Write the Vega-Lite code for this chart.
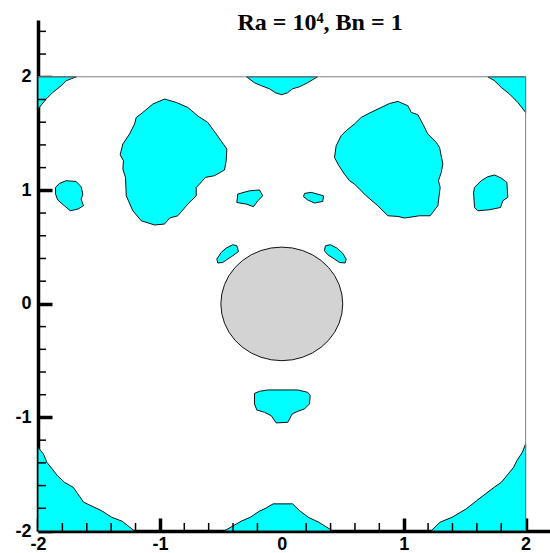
{
  "$schema": "https://vega.github.io/schema/vega-lite/v6.json",
  "width": 512,
  "height": 511,
  "autosize": {"type": "none"},
  "padding": {"left": 38, "top": 20, "right": 0, "bottom": 22},
  "background": "white",
  "config": {"view": {"stroke": null}},
  "title": {"text": "Ra = 10⁴, Bn = 1", "font": "Liberation Serif", "fontSize": 24, "fontWeight": "bold", "color": "black", "anchor": "middle", "frame": "group", "dx": 26, "offset": 0, "baseline": "alphabetic", "dy": 34},
  "datasets": {
    "blobs": [
      {"s":"tl","i":0,"x":-2,"y":2},{"s":"tl","i":1,"x":-1.685,"y":2},{"s":"tl","i":2,"x":-1.769,"y":1.965},{"s":"tl","i":3,"x":-1.81,"y":1.921},{"s":"tl","i":4,"x":-1.879,"y":1.862},{"s":"tl","i":5,"x":-1.933,"y":1.804},{"s":"tl","i":6,"x":-2,"y":1.716},{"s":"tl","i":7,"x":-2,"y":2},
      {"s":"tr","i":0,"x":1.69,"y":2},{"s":"tr","i":1,"x":2,"y":2},{"s":"tr","i":2,"x":2,"y":1.686},{"s":"tr","i":3,"x":1.936,"y":1.774},{"s":"tr","i":4,"x":1.868,"y":1.848},{"s":"tr","i":5,"x":1.8,"y":1.906},{"s":"tr","i":6,"x":1.745,"y":1.965},{"s":"tr","i":7,"x":1.69,"y":2},
      {"s":"tc","i":0,"x":-0.29,"y":2},{"s":"tc","i":1,"x":-0.224,"y":1.947},{"s":"tc","i":2,"x":-0.167,"y":1.921},{"s":"tc","i":3,"x":-0.101,"y":1.894},{"s":"tc","i":4,"x":-0.052,"y":1.859},{"s":"tc","i":5,"x":-0.002,"y":1.842},{"s":"tc","i":6,"x":0.047,"y":1.859},{"s":"tc","i":7,"x":0.088,"y":1.894},{"s":"tc","i":8,"x":0.145,"y":1.912},{"s":"tc","i":9,"x":0.211,"y":1.947},{"s":"tc","i":10,"x":0.293,"y":2},{"s":"tc","i":11,"x":-0.29,"y":2},
      {"s":"bl","i":0,"x":-0.962,"y":1.804},{"s":"bl","i":1,"x":-0.866,"y":1.774},{"s":"bl","i":2,"x":-0.771,"y":1.73},{"s":"bl","i":3,"x":-0.689,"y":1.655},{"s":"bl","i":4,"x":-0.607,"y":1.598},{"s":"bl","i":5,"x":-0.538,"y":1.496},{"s":"bl","i":6,"x":-0.451,"y":1.364},{"s":"bl","i":7,"x":-0.456,"y":1.261},{"s":"bl","i":8,"x":-0.47,"y":1.179},{"s":"bl","i":9,"x":-0.552,"y":1.129},{"s":"bl","i":10,"x":-0.626,"y":1.114},{"s":"bl","i":11,"x":-0.675,"y":1.055},{"s":"bl","i":12,"x":-0.702,"y":1.026},{"s":"bl","i":13,"x":-0.702,"y":0.952},{"s":"bl","i":14,"x":-0.771,"y":0.879},{"s":"bl","i":15,"x":-0.853,"y":0.776},{"s":"bl","i":16,"x":-0.921,"y":0.756},{"s":"bl","i":17,"x":-0.962,"y":0.703},{"s":"bl","i":18,"x":-1.044,"y":0.695},{"s":"bl","i":19,"x":-1.153,"y":0.732},{"s":"bl","i":20,"x":-1.222,"y":0.82},{"s":"bl","i":21,"x":-1.276,"y":0.952},{"s":"bl","i":22,"x":-1.282,"y":1.114},{"s":"bl","i":23,"x":-1.304,"y":1.187},{"s":"bl","i":24,"x":-1.299,"y":1.261},{"s":"bl","i":25,"x":-1.326,"y":1.313},{"s":"bl","i":26,"x":-1.304,"y":1.408},{"s":"bl","i":27,"x":-1.249,"y":1.496},{"s":"bl","i":28,"x":-1.208,"y":1.584},{"s":"bl","i":29,"x":-1.194,"y":1.642},{"s":"bl","i":30,"x":-1.14,"y":1.686},{"s":"bl","i":31,"x":-1.058,"y":1.76},{"s":"bl","i":32,"x":-0.962,"y":1.804},
      {"s":"br","i":0,"x":0.952,"y":1.783},{"s":"br","i":1,"x":1.034,"y":1.745},{"s":"br","i":2,"x":1.062,"y":1.686},{"s":"br","i":3,"x":1.116,"y":1.666},{"s":"br","i":4,"x":1.157,"y":1.584},{"s":"br","i":5,"x":1.198,"y":1.496},{"s":"br","i":6,"x":1.267,"y":1.422},{"s":"br","i":7,"x":1.294,"y":1.378},{"s":"br","i":8,"x":1.321,"y":1.232},{"s":"br","i":9,"x":1.308,"y":1.158},{"s":"br","i":10,"x":1.285,"y":1.085},{"s":"br","i":11,"x":1.299,"y":1.026},{"s":"br","i":12,"x":1.28,"y":0.864},{"s":"br","i":13,"x":1.217,"y":0.776},{"s":"br","i":14,"x":1.13,"y":0.776},{"s":"br","i":15,"x":1.007,"y":0.756},{"s":"br","i":16,"x":0.952,"y":0.77},{"s":"br","i":17,"x":0.87,"y":0.776},{"s":"br","i":18,"x":0.788,"y":0.864},{"s":"br","i":19,"x":0.692,"y":0.952},{"s":"br","i":20,"x":0.596,"y":1.055},{"s":"br","i":21,"x":0.555,"y":1.085},{"s":"br","i":22,"x":0.514,"y":1.143},{"s":"br","i":23,"x":0.468,"y":1.217},{"s":"br","i":24,"x":0.432,"y":1.29},{"s":"br","i":25,"x":0.446,"y":1.393},{"s":"br","i":26,"x":0.487,"y":1.481},{"s":"br","i":27,"x":0.528,"y":1.525},{"s":"br","i":28,"x":0.596,"y":1.584},{"s":"br","i":29,"x":0.651,"y":1.642},{"s":"br","i":30,"x":0.719,"y":1.68},{"s":"br","i":31,"x":0.815,"y":1.73},{"s":"br","i":32,"x":0.884,"y":1.765},{"s":"br","i":33,"x":0.952,"y":1.783},
      {"s":"sl","i":0,"x":-1.856,"y":1.026},{"s":"sl","i":1,"x":-1.824,"y":1.061},{"s":"sl","i":2,"x":-1.769,"y":1.085},{"s":"sl","i":3,"x":-1.687,"y":1.078},{"s":"sl","i":4,"x":-1.646,"y":1.032},{"s":"sl","i":5,"x":-1.632,"y":0.967},{"s":"sl","i":6,"x":-1.646,"y":0.923},{"s":"sl","i":7,"x":-1.627,"y":0.864},{"s":"sl","i":8,"x":-1.673,"y":0.835},{"s":"sl","i":9,"x":-1.736,"y":0.82},{"s":"sl","i":10,"x":-1.783,"y":0.864},{"s":"sl","i":11,"x":-1.838,"y":0.915},{"s":"sl","i":12,"x":-1.856,"y":0.967},{"s":"sl","i":13,"x":-1.856,"y":1.026},
      {"s":"sr","i":0,"x":1.581,"y":1.026},{"s":"sr","i":1,"x":1.636,"y":1.085},{"s":"sr","i":2,"x":1.69,"y":1.12},{"s":"sr","i":3,"x":1.745,"y":1.135},{"s":"sr","i":4,"x":1.8,"y":1.108},{"s":"sr","i":5,"x":1.846,"y":1.07},{"s":"sr","i":6,"x":1.854,"y":0.938},{"s":"sr","i":7,"x":1.813,"y":0.908},{"s":"sr","i":8,"x":1.794,"y":0.849},{"s":"sr","i":9,"x":1.704,"y":0.829},{"s":"sr","i":10,"x":1.608,"y":0.82},{"s":"sr","i":11,"x":1.581,"y":0.849},{"s":"sr","i":12,"x":1.573,"y":0.982},{"s":"sr","i":13,"x":1.581,"y":1.026},
      {"s":"cl","i":0,"x":-0.361,"y":0.967},{"s":"cl","i":1,"x":-0.265,"y":0.996},{"s":"cl","i":2,"x":-0.183,"y":1.003},{"s":"cl","i":3,"x":-0.156,"y":0.952},{"s":"cl","i":4,"x":-0.197,"y":0.908},{"s":"cl","i":5,"x":-0.232,"y":0.856},{"s":"cl","i":6,"x":-0.292,"y":0.879},{"s":"cl","i":7,"x":-0.369,"y":0.893},{"s":"cl","i":8,"x":-0.361,"y":0.967},
      {"s":"cr","i":0,"x":0.186,"y":0.973},{"s":"cr","i":1,"x":0.241,"y":0.982},{"s":"cr","i":2,"x":0.342,"y":0.952},{"s":"cr","i":3,"x":0.336,"y":0.902},{"s":"cr","i":4,"x":0.268,"y":0.888},{"s":"cr","i":5,"x":0.213,"y":0.915},{"s":"cr","i":6,"x":0.178,"y":0.944},{"s":"cr","i":7,"x":0.186,"y":0.973},
      {"s":"ml","i":0,"x":-0.533,"y":0.395},{"s":"ml","i":1,"x":-0.497,"y":0.453},{"s":"ml","i":2,"x":-0.456,"y":0.492},{"s":"ml","i":3,"x":-0.402,"y":0.521},{"s":"ml","i":4,"x":-0.369,"y":0.512},{"s":"ml","i":5,"x":-0.355,"y":0.462},{"s":"ml","i":6,"x":-0.402,"y":0.424},{"s":"ml","i":7,"x":-0.443,"y":0.395},{"s":"ml","i":8,"x":-0.484,"y":0.365},{"s":"ml","i":9,"x":-0.525,"y":0.36},{"s":"ml","i":10,"x":-0.533,"y":0.395},
      {"s":"mr","i":0,"x":0.358,"y":0.512},{"s":"mr","i":1,"x":0.397,"y":0.521},{"s":"mr","i":2,"x":0.451,"y":0.492},{"s":"mr","i":3,"x":0.5,"y":0.445},{"s":"mr","i":4,"x":0.528,"y":0.395},{"s":"mr","i":5,"x":0.52,"y":0.36},{"s":"mr","i":6,"x":0.473,"y":0.365},{"s":"mr","i":7,"x":0.432,"y":0.395},{"s":"mr","i":8,"x":0.377,"y":0.433},{"s":"mr","i":9,"x":0.35,"y":0.468},{"s":"mr","i":10,"x":0.358,"y":0.512},
      {"s":"bc","i":0,"x":-0.224,"y":-0.788},{"s":"bc","i":1,"x":-0.183,"y":-0.77},{"s":"bc","i":2,"x":-0.115,"y":-0.758},{"s":"bc","i":3,"x":0.131,"y":-0.758},{"s":"bc","i":4,"x":0.213,"y":-0.779},{"s":"bc","i":5,"x":0.233,"y":-0.808},{"s":"bc","i":6,"x":0.227,"y":-0.881},{"s":"bc","i":7,"x":0.186,"y":-0.925},{"s":"bc","i":8,"x":0.131,"y":-0.946},{"s":"bc","i":9,"x":0.085,"y":-0.969},{"s":"bc","i":10,"x":0.049,"y":-1.043},{"s":"bc","i":11,"x":-0.046,"y":-1.048},{"s":"bc","i":12,"x":-0.087,"y":-0.984},{"s":"bc","i":13,"x":-0.142,"y":-0.955},{"s":"bc","i":14,"x":-0.205,"y":-0.934},{"s":"bc","i":15,"x":-0.224,"y":-0.881},{"s":"bc","i":16,"x":-0.224,"y":-0.788},
      {"s":"blc","i":0,"x":-2,"y":-1.263},{"s":"blc","i":1,"x":-1.956,"y":-1.321},{"s":"blc","i":2,"x":-1.927,"y":-1.395},{"s":"blc","i":3,"x":-1.884,"y":-1.453},{"s":"blc","i":4,"x":-1.841,"y":-1.512},{"s":"blc","i":5,"x":-1.783,"y":-1.571},{"s":"blc","i":6,"x":-1.711,"y":-1.615},{"s":"blc","i":7,"x":-1.625,"y":-1.747},{"s":"blc","i":8,"x":-1.481,"y":-1.82},{"s":"blc","i":9,"x":-1.395,"y":-1.879},{"s":"blc","i":10,"x":-1.308,"y":-1.915},{"s":"blc","i":11,"x":-1.208,"y":-2},{"s":"blc","i":12,"x":-2,"y":-2},{"s":"blc","i":13,"x":-2,"y":-1.263},
      {"s":"brc","i":0,"x":2,"y":-1.233},{"s":"brc","i":1,"x":1.973,"y":-1.307},{"s":"brc","i":2,"x":1.929,"y":-1.38},{"s":"brc","i":3,"x":1.901,"y":-1.439},{"s":"brc","i":4,"x":1.858,"y":-1.497},{"s":"brc","i":5,"x":1.801,"y":-1.571},{"s":"brc","i":6,"x":1.742,"y":-1.615},{"s":"brc","i":7,"x":1.671,"y":-1.673},{"s":"brc","i":8,"x":1.599,"y":-1.732},{"s":"brc","i":9,"x":1.513,"y":-1.805},{"s":"brc","i":10,"x":1.397,"y":-1.879},{"s":"brc","i":11,"x":1.297,"y":-1.923},{"s":"brc","i":12,"x":1.225,"y":-2},{"s":"brc","i":13,"x":2,"y":-2},{"s":"brc","i":14,"x":2,"y":-1.233},
      {"s":"bbc","i":0,"x":-0.473,"y":-2},{"s":"bbc","i":1,"x":-0.402,"y":-1.956},{"s":"bbc","i":2,"x":-0.33,"y":-1.912},{"s":"bbc","i":3,"x":-0.258,"y":-1.879},{"s":"bbc","i":4,"x":-0.186,"y":-1.827},{"s":"bbc","i":5,"x":-0.128,"y":-1.797},{"s":"bbc","i":6,"x":-0.071,"y":-1.761},{"s":"bbc","i":7,"x":0.088,"y":-1.761},{"s":"bbc","i":8,"x":0.145,"y":-1.82},{"s":"bbc","i":9,"x":0.217,"y":-1.879},{"s":"bbc","i":10,"x":0.304,"y":-1.923},{"s":"bbc","i":11,"x":0.418,"y":-2},{"s":"bbc","i":12,"x":-0.473,"y":-2}
    ],
    "circle": [
      {"i":0,"x":0.5,"y":0},{"i":1,"x":0.4924,"y":0.0868},{"i":2,"x":0.4698,"y":0.171},{"i":3,"x":0.433,"y":0.25},{"i":4,"x":0.383,"y":0.3214},{"i":5,"x":0.3214,"y":0.383},{"i":6,"x":0.25,"y":0.433},{"i":7,"x":0.171,"y":0.4698},{"i":8,"x":0.0868,"y":0.4924},{"i":9,"x":0,"y":0.5},
      {"i":10,"x":-0.0868,"y":0.4924},{"i":11,"x":-0.171,"y":0.4698},{"i":12,"x":-0.25,"y":0.433},{"i":13,"x":-0.3214,"y":0.383},{"i":14,"x":-0.383,"y":0.3214},{"i":15,"x":-0.433,"y":0.25},{"i":16,"x":-0.4698,"y":0.171},{"i":17,"x":-0.4924,"y":0.0868},{"i":18,"x":-0.5,"y":0},
      {"i":19,"x":-0.4924,"y":-0.0868},{"i":20,"x":-0.4698,"y":-0.171},{"i":21,"x":-0.433,"y":-0.25},{"i":22,"x":-0.383,"y":-0.3214},{"i":23,"x":-0.3214,"y":-0.383},{"i":24,"x":-0.25,"y":-0.433},{"i":25,"x":-0.171,"y":-0.4698},{"i":26,"x":-0.0868,"y":-0.4924},{"i":27,"x":0,"y":-0.5},
      {"i":28,"x":0.0868,"y":-0.4924},{"i":29,"x":0.171,"y":-0.4698},{"i":30,"x":0.25,"y":-0.433},{"i":31,"x":0.3214,"y":-0.383},{"i":32,"x":0.383,"y":-0.3214},{"i":33,"x":0.433,"y":-0.25},{"i":34,"x":0.4698,"y":-0.171},{"i":35,"x":0.4924,"y":-0.0868},{"i":36,"x":0.5,"y":0}
    ],
    "frame": [
      {"x":-2,"x2":2,"y":2,"y2":2},
      {"x":2,"x2":2,"y":-2,"y2":2}
    ],
    "xminor": [
      {"v":-1.8},{"v":-1.6},{"v":-1.4},{"v":-1.2},{"v":-0.8},{"v":-0.6},{"v":-0.4},{"v":-0.2},
      {"v":0.2},{"v":0.4},{"v":0.6},{"v":0.8},{"v":1.2},{"v":1.4},{"v":1.6},{"v":1.8}
    ],
    "yminor": [
      {"v":-1.8},{"v":-1.6},{"v":-1.4},{"v":-1.2},{"v":-0.8},{"v":-0.6},{"v":-0.4},{"v":-0.2},
      {"v":0.2},{"v":0.4},{"v":0.6},{"v":0.8},{"v":1.2},{"v":1.4},{"v":1.6},{"v":1.8},{"v":2.2},{"v":2.4}
    ]
  },
  "layer": [
    {
      "data": {"name": "blobs"},
      "mark": {"type": "line", "fill": "#00ffff", "stroke": "#111111", "strokeWidth": 1, "interpolate": "linear"},
      "encoding": {
        "x": {"field": "x", "type": "quantitative",
          "scale": {"domain": [-2, 2.2], "nice": false, "zero": false},
          "axis": {"title": null, "grid": false, "orient": "bottom",
            "values": [-2, -1, 0, 1, 2],
            "domainColor": "black", "domainWidth": 3.5,
            "tickColor": "black", "tickSize": -13, "tickWidth": 3.5,
            "labelExpr": "(datum.value < 0 ? '-' : '') + abs(round(datum.value))",
            "labelFont": "Liberation Sans", "labelFontWeight": "bold", "labelFontSize": 18, "labelColor": "black",
            "labelFlush": false, "labelOverlap": false, "labelBound": false, "labelPadding": 17}},
        "y": {"field": "y", "type": "quantitative",
          "scale": {"domain": [-2, 2.5], "nice": false, "zero": false},
          "axis": {"title": null, "grid": false, "orient": "left",
            "values": [-2, -1, 0, 1, 2],
            "domainColor": "black", "domainWidth": 3.5,
            "tickColor": "black", "tickSize": -14, "tickWidth": 3.5,
            "labelExpr": "(datum.value < 0 ? '-' : '') + abs(round(datum.value))",
            "labelFont": "Liberation Sans", "labelFontWeight": "bold", "labelFontSize": 18, "labelColor": "black",
            "labelFlush": false, "labelOverlap": false, "labelBound": false, "labelPadding": 21}},
        "detail": {"field": "s", "type": "nominal"},
        "order": {"field": "i", "type": "quantitative"}
      }
    },
    {
      "data": {"name": "circle"},
      "mark": {"type": "line", "fill": "#d3d3d3", "stroke": "#111111", "strokeWidth": 1, "interpolate": "linear"},
      "encoding": {
        "x": {"field": "x", "type": "quantitative"},
        "y": {"field": "y", "type": "quantitative"},
        "order": {"field": "i", "type": "quantitative"}
      }
    },
    {
      "data": {"name": "frame"},
      "mark": {"type": "rule", "color": "#808080", "strokeWidth": 1},
      "encoding": {
        "x": {"field": "x", "type": "quantitative"},
        "x2": {"field": "x2"},
        "y": {"field": "y", "type": "quantitative"},
        "y2": {"field": "y2"}
      }
    },
    {
      "data": {"name": "xminor"},
      "mark": {"type": "tick", "orient": "vertical", "color": "black", "size": 8, "thickness": 1.5, "yOffset": -4, "opacity": 1},
      "encoding": {
        "x": {"field": "v", "type": "quantitative"},
        "y": {"datum": -2, "type": "quantitative"}
      }
    },
    {
      "data": {"name": "yminor"},
      "mark": {"type": "tick", "orient": "horizontal", "color": "black", "size": 8, "thickness": 1.5, "xOffset": 4, "opacity": 1},
      "encoding": {
        "y": {"field": "v", "type": "quantitative"},
        "x": {"datum": -2, "type": "quantitative"}
      }
    }
  ]
}
